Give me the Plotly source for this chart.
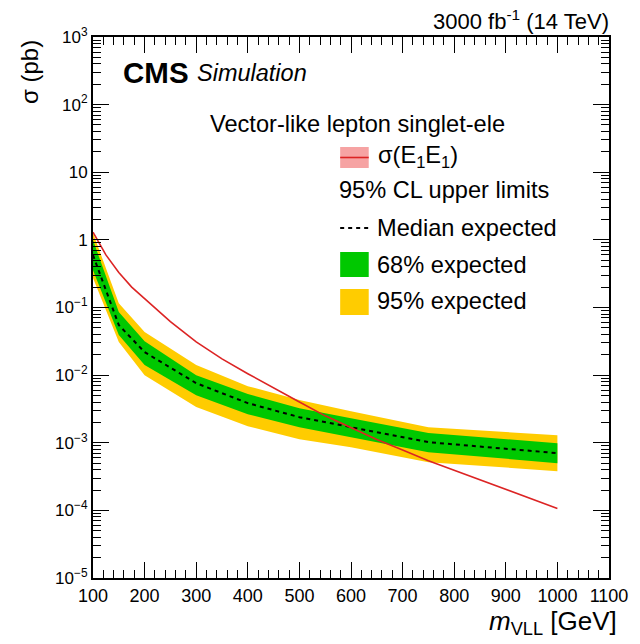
import plotly.graph_objects as go

# Expected upper limits vs. VLL mass
mass = [100, 150, 200, 300, 400, 500, 600, 750, 1000]
median_exp = [0.596, 0.055, 0.0219, 0.0076, 0.00385, 0.00239, 0.00170, 0.00102, 0.000702]
band68_up = [0.993, 0.0855, 0.0318, 0.0100, 0.00524, 0.00325, 0.00231, 0.00139, 0.000986]
band68_dn = [0.357, 0.0391, 0.0141, 0.00506, 0.00265, 0.00170, 0.00121, 0.000726, 0.000499]
band95_up = [1.26, 0.116, 0.0433, 0.0141, 0.00687, 0.00427, 0.00293, 0.00170, 0.00129]
band95_dn = [0.272, 0.0308, 0.0100, 0.00337, 0.00176, 0.00113, 0.000861, 0.000516, 0.000380]

# Theory pair-production cross section
theory_mass = [100, 125, 150, 175, 200, 250, 300, 350, 400, 450, 500, 550, 600, 650, 700, 750, 1000]
xsec_theory = [1.30, 0.60, 0.33, 0.20, 0.135, 0.062, 0.031, 0.0174, 0.0105, 0.0064, 0.0040,
               0.0025, 0.00165, 0.00112, 0.00078, 0.00054, 0.000107]

x_ticks = [100, 200, 300, 400, 500, 600, 700, 800, 900, 1000, 1100]
y_ticks = [1e-5, 1e-4, 1e-3, 1e-2, 1e-1, 1, 10, 100, 1000]
y_ticktext = ["10<sup>\u22125</sup>", "10<sup>\u22124</sup>", "10<sup>\u22123</sup>",
              "10<sup>\u22122</sup>", "10<sup>\u22121</sup>", "1", "10",
              "10<sup>2</sup>", "10<sup>3</sup>"]

GREEN = "#00c800"
YELLOW = "#ffcc00"
RED = "#dc2424"
FONT = "Liberation Sans"

fig = go.Figure()

# 95% band
fig.add_trace(go.Scatter(x=mass, y=band95_up, mode="lines", line=dict(width=0, color=YELLOW),
                         showlegend=False, hoverinfo="skip"))
fig.add_trace(go.Scatter(x=mass, y=band95_dn, mode="lines", line=dict(width=0, color=YELLOW),
                         fill="tonexty", fillcolor=YELLOW, showlegend=False, hoverinfo="skip"))
# 68% band
fig.add_trace(go.Scatter(x=mass, y=band68_up, mode="lines", line=dict(width=0, color=GREEN),
                         showlegend=False, hoverinfo="skip"))
fig.add_trace(go.Scatter(x=mass, y=band68_dn, mode="lines", line=dict(width=0, color=GREEN),
                         fill="tonexty", fillcolor=GREEN, showlegend=False, hoverinfo="skip"))
# median expected
fig.add_trace(go.Scatter(x=mass, y=median_exp, mode="lines",
                         line=dict(color="black", width=2, dash="4px,4px"), showlegend=False))
# theory cross section
fig.add_trace(go.Scatter(x=theory_mass, y=xsec_theory, mode="lines",
                         line=dict(color=RED, width=1.6), showlegend=False))

L, R, T, B = 93, 617, 37, 578
W, H = R - L, B - T


def px(xp):
    return (xp - L) / W


def py(yp):
    return (B - yp) / H


shapes = []
annotations = []

# legend symbols
shapes.append(dict(type="rect", xref="paper", yref="paper", x0=px(344), x1=px(373),
                   y0=py(168), y1=py(147), fillcolor="#f6a3a3", line=dict(width=0)))
shapes.append(dict(type="line", xref="paper", yref="paper", x0=px(344), x1=px(373),
                   y0=py(157.5), y1=py(157.5), line=dict(color=RED, width=1.6)))
shapes.append(dict(type="line", xref="paper", yref="paper", x0=px(344), x1=px(373),
                   y0=py(228), y1=py(228), line=dict(color="black", width=2, dash="4px,4px")))
shapes.append(dict(type="rect", xref="paper", yref="paper", x0=px(344), x1=px(373),
                   y0=py(277), y1=py(252), fillcolor=GREEN, line=dict(width=0)))
shapes.append(dict(type="rect", xref="paper", yref="paper", x0=px(344), x1=px(373),
                   y0=py(315), y1=py(289), fillcolor=YELLOW, line=dict(width=0)))


def text(s, xp, yp, size, xanchor="left", yanchor="middle", **kw):
    annotations.append(dict(text=s, xref="paper", yref="paper", x=px(xp), y=py(yp),
                            xanchor=xanchor, yanchor=yanchor, showarrow=False,
                            font=dict(family=FONT, size=size, color="black"), **kw))


text("Vector-like lepton singlet-ele", 210, 124, 23.6)
text("\u03c3(E<sub>1</sub>E<sub>1</sub>)", 380, 157, 23.6)
text("95% CL upper limits", 341, 190, 23.6)
text("Median expected", 379, 228, 23.6)
text("68% expected", 379, 265, 23.6)
text("95% expected", 379, 301, 23.6)

text("<b>CMS</b>", 121, 72, 29.5)
text("<i>Simulation</i>", 197, 73, 23.5)
text("3000 fb<sup>-1</sup> (14 TeV)", 619, 20, 22, xanchor="right")
text("<i>m</i><sub>VLL</sub> [GeV]", 627, 622, 26, xanchor="right")
text("\u03c3 (pb)", 28, 38, 24, xanchor="center", yanchor="top", textangle=-90)

fig.update_layout(
    width=640, height=644,
    margin=dict(l=L, r=640 - R, t=T, b=644 - B),
    paper_bgcolor="white", plot_bgcolor="white",
    font=dict(family=FONT, size=18, color="black"),
    shapes=shapes, annotations=annotations,
    showlegend=False,
)

fig.update_xaxes(
    type="linear", range=[100, 1100], tickvals=x_ticks,
    ticks="inside", ticklen=16, tickwidth=1.3, tickcolor="black",
    showline=True, linecolor="black", linewidth=2, mirror="allticks",
    showgrid=False, zeroline=False,
    tickfont=dict(family=FONT, size=18),
    minor=dict(dtick=20, ticks="inside", ticklen=8, tickwidth=1.3, tickcolor="black", showgrid=False),
)
fig.update_yaxes(
    type="log", range=[-5, 3], tickvals=y_ticks, ticktext=y_ticktext,
    ticks="inside", ticklen=16, tickwidth=1.3, tickcolor="black",
    showline=True, linecolor="black", linewidth=2, mirror="allticks",
    showgrid=False, zeroline=False,
    tickfont=dict(family=FONT, size=17),
    minor=dict(dtick="D1", ticks="inside", ticklen=8, tickwidth=1.3, tickcolor="black", showgrid=False),
)

fig.write_html("out.html")
